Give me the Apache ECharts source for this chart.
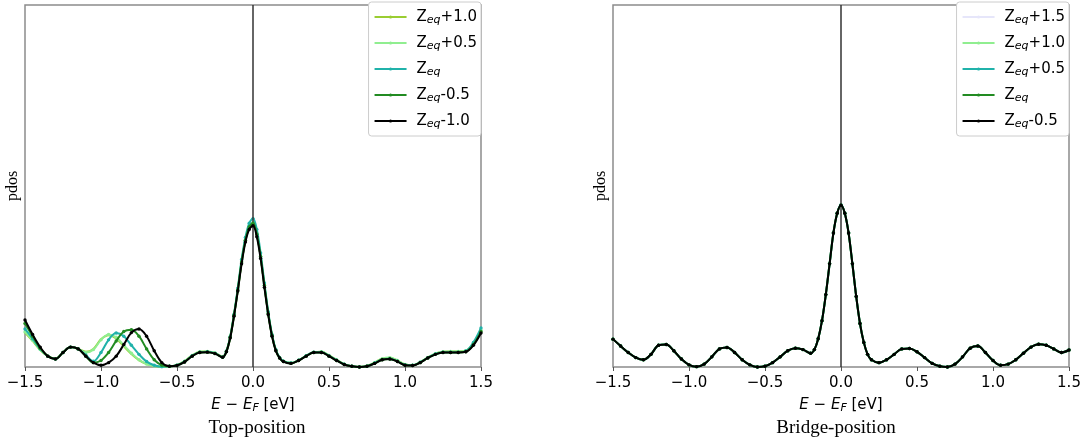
<!DOCTYPE html>
<html><head><meta charset="utf-8">
<script src="https://cdn.jsdelivr.net/npm/echarts/dist/echarts.min.js"></script>
<style>html,body{margin:0;padding:0;background:#fff}#c{width:1085px;height:443px}</style>
</head><body><div id="c"></div>
<script>
// ---- data ----
const energy = [-1.5,-1.45,-1.4,-1.35,-1.3,-1.25,-1.2,-1.15,-1.1,-1.05,-1.0,-0.95,-0.9,-0.85,-0.8,-0.75,-0.7,-0.65,-0.6,
  -0.55,-0.5,-0.45,-0.4,-0.35,-0.3,-0.25,-0.2,
  -0.175,-0.15,-0.125,-0.1,-0.075,-0.05,-0.025,0,0.025,0.05,0.075,0.1,0.125,0.15,0.175,
  0.2,0.25,0.3,0.35,0.4,0.45,0.5,0.55,0.6,0.65,0.7,0.75,0.8,0.85,0.9,0.95,1.0,1.05,1.1,1.15,1.2,1.25,1.3,1.35,1.4,1.45,1.5];
const tickLabels = ['\u22121.5','\u22121.0','\u22120.5','0.0','0.5','1.0','1.5'];

// Top-position
const topLabels = ['+1.0','+0.5','','-0.5','-1.0'];
const topP10 = [0.095,0.072,0.047,0.03,0.023,0.04,0.055,0.05,0.042,0.05,0.077,0.088,0.079,0.057,0.036,0.019,0.008,0.003,0.001,
  0.002,0.005,0.016,0.032,0.042,0.043,0.039,0.028,
  0.043,0.082,0.143,0.213,0.29,0.35,0.386,0.397,0.367,0.305,0.225,0.148,0.087,0.046,0.025,
  0.016,0.011,0.019,0.031,0.041,0.042,0.032,0.02,0.008,0.002,0.0,0.003,0.012,0.023,0.025,0.018,0.007,0.005,0.013,0.026,0.037,0.042,0.043,0.043,0.045,0.064,0.1];
const topP05 = [0.097,0.074,0.048,0.03,0.023,0.04,0.055,0.05,0.04,0.048,0.075,0.09,0.082,0.06,0.038,0.02,0.008,0.003,0.001,
  0.002,0.005,0.016,0.032,0.042,0.043,0.039,0.028,
  0.043,0.082,0.143,0.213,0.29,0.35,0.387,0.398,0.368,0.306,0.226,0.149,0.088,0.047,0.026,
  0.016,0.011,0.019,0.031,0.041,0.042,0.032,0.02,0.008,0.002,0.0,0.003,0.012,0.023,0.026,0.018,0.007,0.005,0.013,0.026,0.037,0.042,0.043,0.043,0.045,0.065,0.102];
const topEq = [0.105,0.078,0.05,0.03,0.022,0.04,0.055,0.05,0.033,0.016,0.04,0.075,0.094,0.085,0.06,0.035,0.015,0.005,0.001,
  0.002,0.005,0.015,0.031,0.041,0.042,0.038,0.027,
  0.044,0.084,0.146,0.218,0.297,0.358,0.397,0.41,0.38,0.315,0.232,0.153,0.09,0.048,0.026,
  0.016,0.011,0.019,0.031,0.041,0.041,0.031,0.019,0.008,0.002,0.0,0.002,0.011,0.021,0.023,0.016,0.006,0.005,0.013,0.026,0.036,0.041,0.041,0.041,0.044,0.068,0.108];
const topM05 = [0.12,0.085,0.052,0.03,0.022,0.04,0.055,0.05,0.03,0.012,0.018,0.04,0.072,0.098,0.103,0.085,0.05,0.02,0.005,
  0.002,0.004,0.014,0.03,0.04,0.041,0.037,0.027,
  0.043,0.082,0.143,0.213,0.29,0.35,0.387,0.397,0.367,0.305,0.225,0.148,0.087,0.046,0.025,
  0.015,0.01,0.018,0.03,0.04,0.04,0.03,0.018,0.007,0.002,0.0,0.002,0.01,0.02,0.022,0.015,0.005,0.004,0.012,0.025,0.035,0.04,0.04,0.04,0.042,0.062,0.098];
const topM10 = [0.13,0.09,0.055,0.03,0.022,0.04,0.055,0.05,0.03,0.012,0.005,0.012,0.03,0.062,0.095,0.105,0.085,0.045,0.012,
  0.002,0.004,0.014,0.03,0.04,0.041,0.037,0.027,
  0.042,0.08,0.14,0.21,0.285,0.345,0.38,0.39,0.36,0.3,0.22,0.145,0.085,0.045,0.025,
  0.015,0.01,0.018,0.03,0.04,0.04,0.03,0.018,0.007,0.002,0.0,0.002,0.01,0.02,0.022,0.015,0.005,0.004,0.012,0.025,0.035,0.04,0.04,0.04,0.042,0.06,0.094];

// Bridge-position
const bridgeLabels = ['+1.5','+1.0','+0.5','','-0.5'];
const brP15 = [0.077,0.058,0.04,0.026,0.02,0.035,0.06,0.062,0.045,0.022,0.006,0.001,0.008,0.028,0.05,0.054,0.04,0.02,0.006,
  0.0,0.002,0.012,0.028,0.045,0.052,0.048,0.038,
  0.048,0.078,0.128,0.2,0.285,0.37,0.424,0.446,0.424,0.37,0.285,0.195,0.12,0.068,0.035,
  0.02,0.012,0.02,0.035,0.05,0.051,0.042,0.026,0.01,0.002,0.0,0.008,0.028,0.052,0.058,0.04,0.018,0.005,0.008,0.02,0.038,0.055,0.063,0.06,0.05,0.04,0.047];
const brP10 = [0.077,0.058,0.04,0.026,0.02,0.035,0.06,0.062,0.045,0.022,0.006,0.001,0.008,0.028,0.05,0.054,0.04,0.02,0.006,
  0.0,0.002,0.012,0.028,0.045,0.052,0.048,0.038,
  0.048,0.078,0.128,0.2,0.286,0.371,0.425,0.447,0.425,0.37,0.285,0.195,0.12,0.068,0.035,
  0.02,0.012,0.02,0.035,0.05,0.051,0.042,0.026,0.01,0.002,0.0,0.008,0.028,0.052,0.058,0.04,0.018,0.005,0.008,0.02,0.038,0.055,0.063,0.06,0.05,0.04,0.047];
const brP05 = [0.077,0.058,0.04,0.026,0.02,0.035,0.06,0.062,0.045,0.022,0.006,0.001,0.008,0.028,0.05,0.054,0.04,0.02,0.006,
  0.0,0.002,0.012,0.028,0.045,0.052,0.048,0.038,
  0.048,0.078,0.128,0.2,0.285,0.37,0.425,0.448,0.425,0.37,0.285,0.195,0.12,0.068,0.035,
  0.02,0.012,0.02,0.035,0.05,0.051,0.042,0.026,0.01,0.002,0.0,0.008,0.028,0.052,0.058,0.04,0.018,0.005,0.008,0.02,0.038,0.055,0.063,0.06,0.05,0.04,0.047];
const brEq = [0.077,0.058,0.04,0.026,0.02,0.035,0.06,0.062,0.045,0.022,0.006,0.001,0.008,0.028,0.05,0.054,0.04,0.02,0.006,
  0.0,0.002,0.012,0.028,0.045,0.052,0.048,0.038,
  0.048,0.078,0.128,0.2,0.285,0.37,0.425,0.447,0.425,0.37,0.285,0.195,0.12,0.068,0.035,
  0.02,0.012,0.02,0.035,0.05,0.051,0.042,0.026,0.01,0.002,0.0,0.008,0.028,0.052,0.058,0.04,0.018,0.005,0.008,0.02,0.038,0.055,0.063,0.06,0.05,0.04,0.047];
const brM05 = [0.077,0.058,0.04,0.026,0.02,0.035,0.06,0.062,0.045,0.022,0.006,0.001,0.008,0.028,0.05,0.054,0.04,0.02,0.006,
  0.0,0.002,0.012,0.028,0.045,0.052,0.048,0.038,
  0.048,0.078,0.128,0.2,0.285,0.37,0.425,0.447,0.425,0.37,0.285,0.195,0.12,0.068,0.035,
  0.02,0.012,0.02,0.035,0.05,0.051,0.042,0.026,0.01,0.002,0.0,0.008,0.028,0.052,0.058,0.04,0.018,0.005,0.008,0.02,0.038,0.055,0.063,0.06,0.05,0.04,0.047];

const topSeriesData = [topP10, topP05, topEq, topM05, topM10];
const topColors = ['#9acd32','#90ee90','#20b2aa','#228b22','#000000'];
const topMarkers = [false, true, true, true, true];
const brSeriesData = [brP15, brP10, brP05, brEq, brM05];
const brColors = ['#e6e6fa','#90ee90','#20b2aa','#228b22','#000000'];
const brMarkers = [false, true, true, true, true];

// ---- chart ----
const pairs = arr => energy.map((e, i) => [e, arr[i]]);
const FONT = 'DejaVu Sans';
const SERIF = 'Liberation Serif';

function buildSeries(prefix, labels, datas, colors, markers, idx) {
  return datas.map((d, i) => {
    const s = {
      name: prefix + '|' + labels[i],
      type: 'line',
      xAxisIndex: idx, yAxisIndex: idx,
      data: pairs(d),
      smooth: 0.35,
      symbol: markers[i] ? 'circle' : 'none',
      symbolSize: 3.4,
      showSymbol: markers[i],
      lineStyle: { color: colors[i], width: 2 },
      itemStyle: { color: colors[i] },
      emphasis: { disabled: true },
      z: 2 + i
    };
    if (i === datas.length - 1) {
      s.markLine = {
        silent: true, symbol: ['none', 'none'], label: { show: false },
        lineStyle: { color: '#333', width: 1.5, type: 'solid' },
        data: [{ xAxis: 0 }], animation: false
      };
    }
    return s;
  });
}

const legendRich = {
  sub: { fontSize: 11, fontFamily: FONT, fontStyle: 'italic', lineHeight: 10, verticalAlign: 'bottom', color: '#000' }
};
function legendCfg(prefix, labels, right) {
  return {
    data: labels.map(l => prefix + '|' + l),
    orient: 'vertical', right: right, top: 2,
    itemWidth: 32, itemHeight: 4, itemGap: 8,
    backgroundColor: '#fff', borderColor: '#cccccc', borderWidth: 1, borderRadius: 3,
    padding: [6, 4, 6, 5],
    selectedMode: false,
    formatter: name => 'Z{sub|eq}' + name.split('|')[1],
    textStyle: { fontSize: 15, fontFamily: FONT, color: '#000', lineHeight: 18, padding: [0, 0, 0, 5], rich: legendRich }
  };
}

function xAxisCfg(idx) {
  return {
    type: 'value', gridIndex: idx, min: -1.5, max: 1.5, interval: 0.5,
    axisLine: { show: false },
    axisTick: { show: true, length: 4, lineStyle: { color: '#555', width: 1 } },
    splitLine: { show: false },
    axisLabel: { fontSize: 15, fontFamily: FONT, color: '#000', margin: 9,
      formatter: v => tickLabels[Math.round((v + 1.5) / 0.5)] },
    name: '{it|E} \u2212 {it|E}{sub|F} [eV]',
    nameLocation: 'middle', nameGap: 18,
    nameTextStyle: { fontSize: 15, fontFamily: FONT, color: '#000', lineHeight: 18,
      rich: {
        it: { fontSize: 15, fontFamily: FONT, fontStyle: 'italic', color: '#000' },
        sub: { fontSize: 11, fontFamily: FONT, fontStyle: 'italic', lineHeight: 10, verticalAlign: 'bottom', color: '#000' }
      } }
  };
}
function yAxisCfg(idx) {
  return {
    type: 'value', gridIndex: idx, min: 0, max: 1,
    axisLine: { show: false }, axisTick: { show: false }, axisLabel: { show: false }, splitLine: { show: false },
    name: 'pdos', nameLocation: 'middle', nameRotate: 90, nameGap: 4,
    nameTextStyle: { fontSize: 16, fontFamily: SERIF, color: '#000' }
  };
}

const chart = echarts.init(document.getElementById('c'), null, { renderer: 'canvas' });
chart.setOption({
  animation: false,
  backgroundColor: '#fff',
  grid: [
    { left: 25, right: 604, top: 5, bottom: 76, show: true, borderColor: '#8c8c8c', borderWidth: 1.5, backgroundColor: 'transparent' },
    { left: 613, right: 16, top: 5, bottom: 76, show: true, borderColor: '#8c8c8c', borderWidth: 1.5, backgroundColor: 'transparent' }
  ],
  xAxis: [xAxisCfg(0), xAxisCfg(1)],
  yAxis: [yAxisCfg(0), yAxisCfg(1)],
  legend: [legendCfg('top', topLabels, 604), legendCfg('bridge', bridgeLabels, 16)],
  series: [
    ...buildSeries('top', topLabels, topSeriesData, topColors, topMarkers, 0),
    ...buildSeries('bridge', bridgeLabels, brSeriesData, brColors, brMarkers, 1)
  ],
  graphic: [
    { type: 'text', x: 257, y: 428, style: { text: 'Top-position', fontSize: 19, fontFamily: SERIF, fill: '#000', align: 'center', verticalAlign: 'middle' } },
    { type: 'text', x: 836, y: 428, style: { text: 'Bridge-position', fontSize: 19, fontFamily: SERIF, fill: '#000', align: 'center', verticalAlign: 'middle' } }
  ]
});
</script>
</body></html>
